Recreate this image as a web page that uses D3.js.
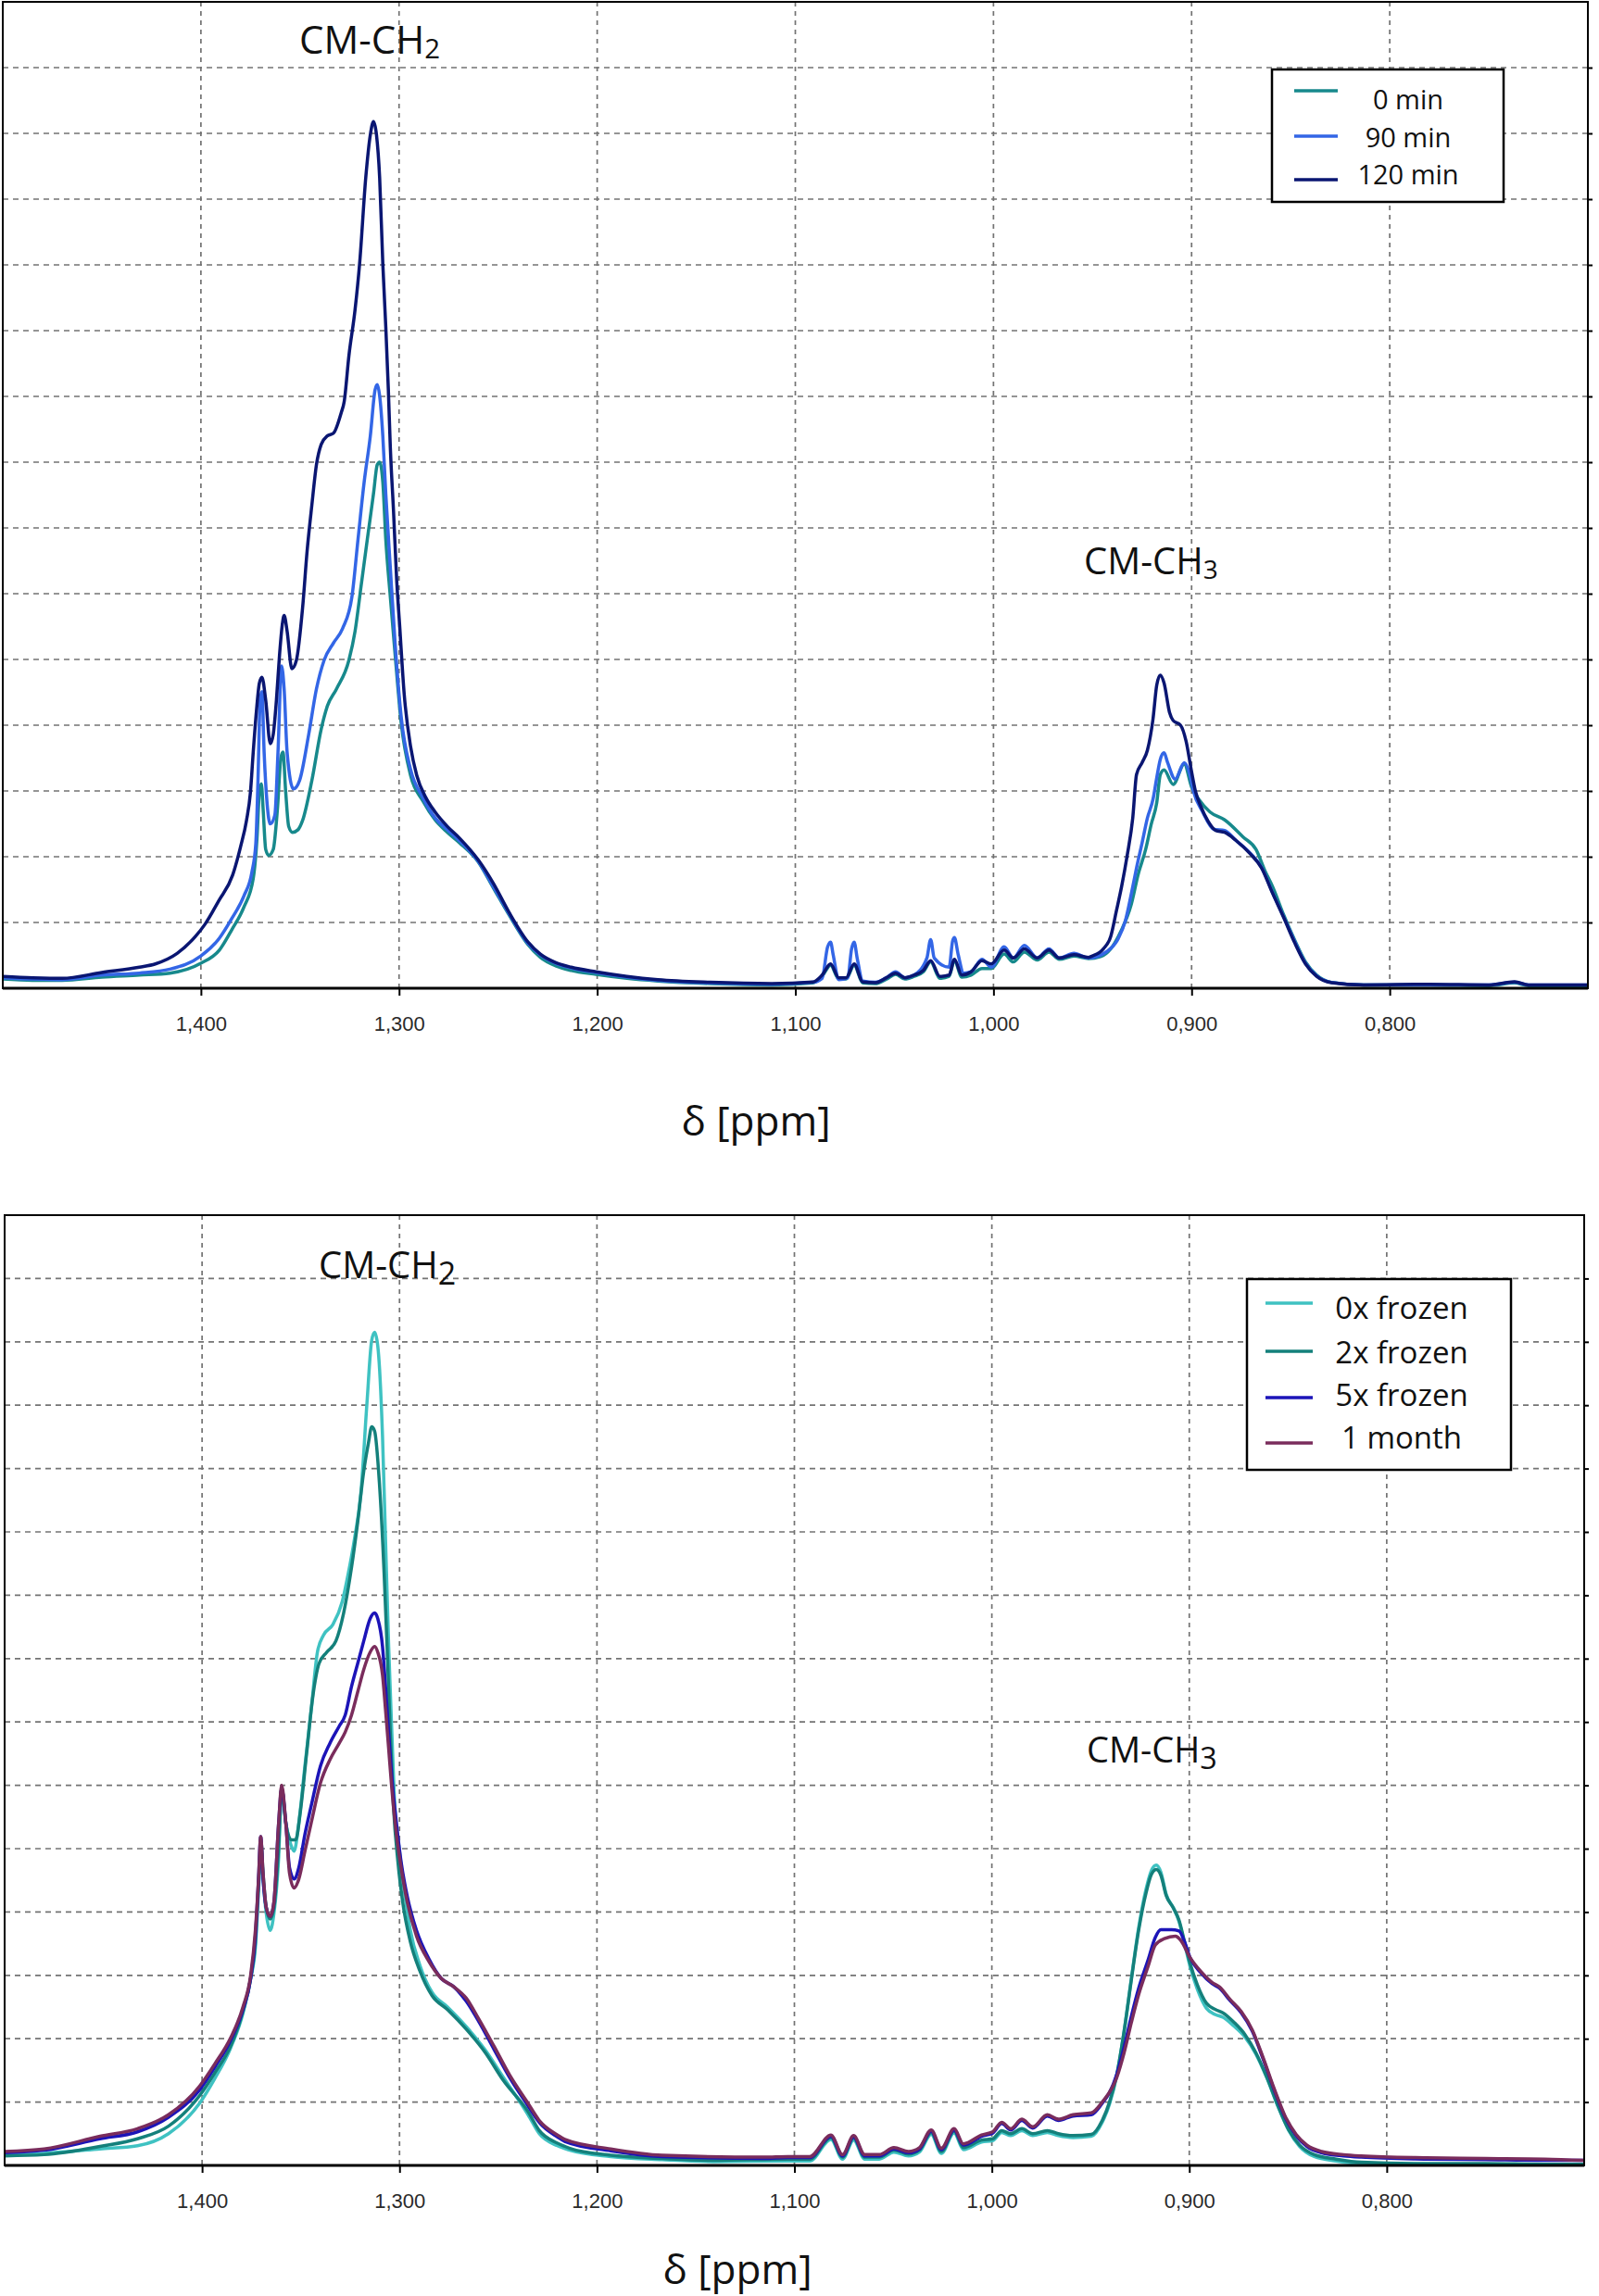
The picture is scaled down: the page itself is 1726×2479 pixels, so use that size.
<!DOCTYPE html>
<html>
<head>
<meta charset="utf-8">
<script src="https://cdn.jsdelivr.net/npm/d3@7"></script>
<style>
body { margin: 0; background: #fff; }
svg { display: block; }
</style>
</head>
<body>
<svg id="chart" width="1726" height="2479"></svg>
<script>
// x ticks (ppm) and horizontal grid levels
var xTicks = [1.4, 1.3, 1.2, 1.1, 1.0, 0.9, 0.8];
var yGrid = [1, 2, 3, 4, 5, 6, 7, 8, 9, 10, 11, 12, 13, 14];

// upper panel: [ppm, intensity]
var min0 = [[1.500,0.14],[1.485,0.12],[1.470,0.12],[1.450,0.17],[1.431,0.20],[1.4156,0.23],[1.4000,0.38],[1.3907,0.58],[1.3844,0.89],[1.3782,1.24],[1.3736,1.67],[1.3717,2.28],[1.3705,2.98],[1.3695,3.11],[1.3686,2.72],[1.3673,2.11],[1.3658,2.02],[1.3635,2.11],[1.3614,2.72],[1.3596,3.51],[1.3586,3.59],[1.3572,2.98],[1.3557,2.46],[1.3538,2.37],[1.3510,2.41],[1.3487,2.55],[1.3440,3.16],[1.3393,3.94],[1.3362,4.29],[1.3316,4.55],[1.3253,4.99],[1.3222,5.43],[1.3191,6.13],[1.3160,6.83],[1.3129,7.52],[1.3110,7.96],[1.3098,8.00],[1.3082,7.70],[1.3067,6.83],[1.3044,5.95],[1.3020,5.08],[1.2989,4.03],[1.2942,3.24],[1.2880,2.85],[1.2818,2.56],[1.2756,2.37],[1.2694,2.21],[1.2600,1.92],[1.2523,1.52],[1.2444,1.11],[1.2351,0.67],[1.2287,0.47],[1.2209,0.34],[1.2131,0.27],[1.2006,0.21],[1.185,0.15],[1.1694,0.11],[1.1429,0.07],[1.1119,0.05],[1.0911,0.08],[1.0865,0.18],[1.0822,0.35],[1.0781,0.14],[1.0744,0.14],[1.0703,0.35],[1.0660,0.08],[1.0596,0.07],[1.0540,0.14],[1.0494,0.21],[1.0447,0.14],[1.0401,0.18],[1.0354,0.25],[1.0317,0.40],[1.0271,0.15],[1.0224,0.18],[1.0197,0.42],[1.0160,0.17],[1.0113,0.20],[1.0058,0.30],[1.0011,0.30],[0.9946,0.52],[0.9900,0.40],[0.9844,0.55],[0.9779,0.43],[0.9720,0.55],[0.9668,0.44],[0.9594,0.49],[0.9520,0.45],[0.9460,0.48],[0.9408,0.60],[0.9353,0.89],[0.9306,1.26],[0.9269,1.74],[0.9232,2.11],[0.9204,2.49],[0.9176,2.82],[0.9158,3.25],[0.9139,3.32],[0.9093,3.10],[0.9037,3.41],[0.9000,3.06],[0.8963,2.87],[0.8907,2.68],[0.8833,2.56],[0.8740,2.30],[0.8675,2.11],[0.8629,1.78],[0.8592,1.55],[0.8536,1.12],[0.8481,0.74],[0.8425,0.40],[0.8369,0.20],[0.8295,0.09],[0.8132,0.05],[0.780,0.05],[0.750,0.04],[0.737,0.08],[0.730,0.04],[0.700,0.04]];

var min90 = [[1.500,0.16],[1.485,0.14],[1.470,0.13],[1.450,0.20],[1.4311,0.23],[1.4156,0.29],[1.4000,0.49],[1.3907,0.76],[1.3844,1.06],[1.3782,1.41],[1.3743,1.76],[1.3723,2.20],[1.3712,3.16],[1.3701,4.38],[1.3692,4.51],[1.3681,3.59],[1.3666,2.81],[1.3650,2.50],[1.3627,2.63],[1.3611,3.59],[1.3593,4.90],[1.3580,4.55],[1.3565,3.59],[1.3533,3.03],[1.3502,3.16],[1.3456,3.86],[1.3417,4.55],[1.3378,4.99],[1.3331,5.25],[1.3285,5.47],[1.3238,5.95],[1.3207,6.83],[1.3176,7.70],[1.3145,8.40],[1.3121,9.10],[1.3110,9.18],[1.3098,9.01],[1.3082,8.40],[1.3067,7.52],[1.3044,6.39],[1.3020,5.25],[1.2989,4.12],[1.2942,3.33],[1.2880,2.90],[1.2818,2.59],[1.2756,2.41],[1.2694,2.24],[1.2600,1.93],[1.2523,1.54],[1.2444,1.13],[1.2351,0.69],[1.2287,0.51],[1.2209,0.38],[1.2131,0.31],[1.2006,0.24],[1.185,0.17],[1.1694,0.12],[1.1429,0.08],[1.1119,0.06],[1.0911,0.09],[1.0865,0.15],[1.0837,0.63],[1.0822,0.70],[1.0809,0.51],[1.0781,0.13],[1.0735,0.16],[1.0716,0.60],[1.0703,0.70],[1.0688,0.46],[1.0660,0.11],[1.0596,0.09],[1.0540,0.16],[1.0494,0.25],[1.0447,0.16],[1.0401,0.20],[1.0336,0.46],[1.0317,0.74],[1.0299,0.46],[1.0224,0.32],[1.0206,0.72],[1.0197,0.77],[1.0178,0.51],[1.0150,0.23],[1.0113,0.25],[1.0058,0.44],[1.0011,0.32],[0.9946,0.63],[0.9900,0.46],[0.9844,0.65],[0.9779,0.46],[0.9720,0.60],[0.9668,0.46],[0.9594,0.53],[0.9520,0.46],[0.9427,0.56],[0.9371,0.75],[0.9334,1.03],[0.9306,1.41],[0.9278,1.83],[0.9250,2.21],[0.9223,2.59],[0.9195,2.87],[0.9176,3.20],[0.9158,3.48],[0.9139,3.58],[0.9121,3.43],[0.9083,3.18],[0.9037,3.43],[0.9009,3.25],[0.8991,3.00],[0.8944,2.68],[0.8889,2.42],[0.8833,2.40],[0.8777,2.25],[0.8703,2.05],[0.8647,1.84],[0.8592,1.46],[0.8536,1.09],[0.8481,0.72],[0.8425,0.38],[0.8369,0.19],[0.8295,0.09],[0.8132,0.05],[0.780,0.05],[0.750,0.05],[0.737,0.09],[0.730,0.05],[0.700,0.05]];

var min120 = [[1.500,0.18],[1.485,0.16],[1.470,0.15],[1.450,0.24],[1.431,0.32],[1.423,0.37],[1.412,0.53],[1.403,0.78],[1.398,0.97],[1.391,1.33],[1.384,1.72],[1.380,2.15],[1.377,2.55],[1.375,2.98],[1.3736,3.59],[1.3720,4.21],[1.3705,4.64],[1.3692,4.73],[1.3673,4.38],[1.3650,3.72],[1.3635,3.86],[1.3619,4.38],[1.3603,5.08],[1.3588,5.56],[1.3580,5.67],[1.3565,5.43],[1.3541,4.86],[1.3518,4.99],[1.3487,5.78],[1.3464,6.65],[1.3440,7.35],[1.3417,7.96],[1.3393,8.27],[1.3362,8.40],[1.3331,8.44],[1.3292,8.75],[1.3277,8.92],[1.3253,9.62],[1.3222,10.32],[1.3199,11.02],[1.3168,12.33],[1.3145,12.98],[1.3129,13.18],[1.3114,12.98],[1.3098,12.33],[1.3082,11.02],[1.3067,10.06],[1.3054,9.10],[1.3044,8.22],[1.3028,7.26],[1.3012,6.21],[1.2997,5.52],[1.2974,4.47],[1.2942,3.68],[1.2911,3.24],[1.2865,2.90],[1.2818,2.68],[1.2756,2.46],[1.2694,2.28],[1.2600,1.95],[1.2523,1.59],[1.2444,1.15],[1.2351,0.71],[1.2287,0.52],[1.2209,0.39],[1.2131,0.32],[1.2006,0.25],[1.185,0.18],[1.1694,0.13],[1.1429,0.09],[1.1119,0.07],[1.0911,0.094],[1.0865,0.20],[1.0822,0.37],[1.0781,0.16],[1.0744,0.16],[1.0703,0.37],[1.0660,0.094],[1.0596,0.085],[1.0540,0.16],[1.0494,0.23],[1.0447,0.16],[1.0401,0.20],[1.0354,0.27],[1.0317,0.42],[1.0271,0.18],[1.0224,0.20],[1.0197,0.44],[1.0160,0.20],[1.0113,0.25],[1.0058,0.42],[1.0011,0.37],[0.9946,0.58],[0.9900,0.46],[0.9844,0.60],[0.9779,0.46],[0.9720,0.58],[0.9668,0.46],[0.9594,0.51],[0.9520,0.47],[0.9501,0.49],[0.9445,0.60],[0.9408,0.79],[0.9380,1.17],[0.9353,1.55],[0.9325,2.02],[0.9297,2.59],[0.9278,3.25],[0.9250,3.43],[0.9223,3.62],[0.9195,4.09],[0.9176,4.61],[0.9158,4.76],[0.9139,4.64],[0.9111,4.19],[0.9093,4.07],[0.9056,4.00],[0.9028,3.76],[0.9000,3.29],[0.8981,3.00],[0.8954,2.77],[0.8917,2.54],[0.8879,2.40],[0.8833,2.37],[0.8777,2.25],[0.8703,2.04],[0.8647,1.83],[0.8592,1.45],[0.8536,1.08],[0.8481,0.70],[0.8425,0.37],[0.8369,0.18],[0.8295,0.085],[0.8132,0.05],[0.780,0.06],[0.750,0.05],[0.737,0.10],[0.730,0.05],[0.700,0.05]];

// lower panel
var frozen0 = [[1.500,0.16],[1.480,0.19],[1.4517,0.26],[1.4327,0.31],[1.4170,0.50],[1.4013,0.98],[1.3934,1.38],[1.3856,1.85],[1.3793,2.40],[1.3754,2.95],[1.3730,3.44],[1.3711,4.52],[1.3702,5.05],[1.3691,4.52],[1.3675,3.98],[1.3655,3.71],[1.3636,3.98],[1.3612,4.87],[1.3597,5.95],[1.3576,5.41],[1.3549,5.05],[1.3534,4.96],[1.3510,5.41],[1.3479,6.31],[1.3447,7.20],[1.3416,8.10],[1.3385,8.37],[1.3337,8.54],[1.3290,8.90],[1.3259,9.35],[1.3228,9.89],[1.3196,10.60],[1.3165,12.03],[1.3141,13.02],[1.3126,13.15],[1.3110,12.93],[1.3086,11.50],[1.3071,9.89],[1.3055,8.19],[1.3039,6.84],[1.3024,5.68],[1.3000,4.96],[1.2976,4.34],[1.2945,3.71],[1.2898,3.17],[1.2835,2.73],[1.2757,2.50],[1.2662,2.19],[1.2568,1.83],[1.2474,1.39],[1.2349,0.80],[1.2292,0.50],[1.2200,0.31],[1.2137,0.24],[1.1930,0.14],[1.1670,0.09],[1.1410,0.06],[1.1033,0.07],[1.0922,0.07],[1.0815,0.41],[1.0756,0.10],[1.0700,0.40],[1.0644,0.10],[1.0570,0.10],[1.0496,0.21],[1.0422,0.15],[1.0367,0.21],[1.0307,0.49],[1.0256,0.19],[1.0191,0.51],[1.0144,0.25],[1.0052,0.37],[0.9996,0.39],[0.9950,0.52],[0.9904,0.47],[0.9848,0.55],[0.9793,0.47],[0.9719,0.52],[0.9663,0.47],[0.9589,0.44],[0.9496,0.46],[0.9441,0.68],[0.9404,0.97],[0.9367,1.42],[0.9330,2.12],[0.9293,2.96],[0.9256,3.76],[0.9219,4.36],[0.9191,4.66],[0.9167,4.74],[0.9144,4.63],[0.9117,4.28],[0.9080,4.06],[0.9052,3.85],[0.9024,3.50],[0.8996,3.14],[0.8959,2.78],[0.8913,2.48],[0.8867,2.38],[0.8830,2.34],[0.8774,2.20],[0.8719,2.03],[0.8663,1.76],[0.8607,1.38],[0.8552,0.94],[0.8496,0.55],[0.8441,0.30],[0.8367,0.14],[0.8256,0.07],[0.8130,0.03],[0.780,0.02],[0.750,0.02],[0.720,0.02],[0.700,0.02]];

var frozen2 = [[1.500,0.15],[1.480,0.17],[1.4517,0.30],[1.4327,0.42],[1.4170,0.62],[1.4013,1.10],[1.3934,1.47],[1.3856,1.88],[1.3793,2.43],[1.3754,2.95],[1.3730,3.53],[1.3711,4.61],[1.3702,5.14],[1.3691,4.61],[1.3675,4.07],[1.3655,3.89],[1.3636,4.07],[1.3612,5.05],[1.3597,5.95],[1.3576,5.41],[1.3549,5.14],[1.3526,5.14],[1.3502,5.59],[1.3471,6.49],[1.3440,7.38],[1.3408,7.92],[1.3369,8.10],[1.3322,8.28],[1.3283,8.72],[1.3243,9.44],[1.3212,10.15],[1.3181,10.96],[1.3157,11.41],[1.3141,11.66],[1.3126,11.59],[1.3102,10.78],[1.3078,9.35],[1.3063,8.19],[1.3047,6.84],[1.3031,5.68],[1.3008,4.79],[1.2984,4.16],[1.2945,3.53],[1.2898,3.08],[1.2835,2.68],[1.2757,2.46],[1.2662,2.15],[1.2568,1.79],[1.2474,1.34],[1.2349,0.85],[1.2292,0.55],[1.2200,0.35],[1.2137,0.27],[1.1930,0.16],[1.1670,0.11],[1.1410,0.08],[1.1033,0.10],[1.0922,0.10],[1.0815,0.44],[1.0756,0.13],[1.0700,0.43],[1.0644,0.13],[1.0570,0.13],[1.0496,0.24],[1.0422,0.18],[1.0367,0.24],[1.0307,0.52],[1.0256,0.22],[1.0191,0.54],[1.0144,0.28],[1.0052,0.40],[0.9996,0.42],[0.9950,0.55],[0.9904,0.50],[0.9848,0.58],[0.9793,0.50],[0.9719,0.55],[0.9663,0.50],[0.9589,0.47],[0.9496,0.49],[0.9441,0.71],[0.9404,1.00],[0.9367,1.44],[0.9330,2.12],[0.9293,2.94],[0.9256,3.72],[0.9219,4.30],[0.9191,4.60],[0.9167,4.67],[0.9144,4.58],[0.9117,4.26],[0.9080,4.06],[0.9052,3.87],[0.9024,3.53],[0.8996,3.19],[0.8959,2.85],[0.8913,2.56],[0.8867,2.46],[0.8830,2.41],[0.8774,2.26],[0.8719,2.07],[0.8663,1.78],[0.8607,1.39],[0.8552,0.95],[0.8496,0.56],[0.8441,0.32],[0.8367,0.17],[0.8256,0.10],[0.8130,0.05],[0.780,0.03],[0.750,0.03],[0.720,0.02],[0.700,0.02]];

var frozen5 = [[1.500,0.20],[1.480,0.24],[1.4517,0.42],[1.4327,0.53],[1.4170,0.76],[1.4013,1.19],[1.3934,1.56],[1.3856,1.97],[1.3793,2.46],[1.3754,2.95],[1.3730,3.62],[1.3714,4.52],[1.3703,5.19],[1.3691,4.52],[1.3675,4.07],[1.3655,3.93],[1.3636,4.16],[1.3612,5.41],[1.3597,5.95],[1.3576,5.41],[1.3557,4.70],[1.3534,4.52],[1.3510,4.70],[1.3479,5.23],[1.3447,5.68],[1.3400,6.31],[1.3353,6.66],[1.3306,6.93],[1.3275,7.11],[1.3243,7.56],[1.3212,7.92],[1.3181,8.28],[1.3149,8.63],[1.3126,8.72],[1.3110,8.63],[1.3086,8.19],[1.3071,7.56],[1.3055,6.84],[1.3039,6.13],[1.3016,5.41],[1.2992,4.79],[1.2961,4.25],[1.2914,3.71],[1.2851,3.26],[1.2788,2.95],[1.2725,2.82],[1.2662,2.59],[1.2600,2.28],[1.2521,1.83],[1.2443,1.39],[1.2349,0.94],[1.2290,0.67],[1.2200,0.45],[1.2163,0.38],[1.1930,0.23],[1.1670,0.14],[1.1155,0.11],[1.1033,0.125],[1.0922,0.125],[1.0815,0.46],[1.0756,0.15],[1.0700,0.45],[1.0644,0.15],[1.0570,0.15],[1.0496,0.26],[1.0422,0.20],[1.0367,0.26],[1.0307,0.54],[1.0256,0.25],[1.0191,0.56],[1.0144,0.32],[1.0052,0.46],[0.9996,0.51],[0.9950,0.66],[0.9904,0.56],[0.9848,0.71],[0.9793,0.59],[0.9719,0.78],[0.9663,0.71],[0.9589,0.78],[0.9496,0.80],[0.9441,0.98],[0.9404,1.15],[0.9367,1.44],[0.9330,1.87],[0.9293,2.36],[0.9256,2.80],[0.9209,3.24],[0.9172,3.60],[0.9144,3.72],[0.9089,3.72],[0.9052,3.70],[0.9024,3.53],[0.8996,3.28],[0.8941,3.04],[0.8885,2.87],[0.8848,2.80],[0.8793,2.60],[0.8737,2.41],[0.8681,2.12],[0.8626,1.68],[0.8570,1.19],[0.8515,0.76],[0.8459,0.47],[0.8404,0.30],[0.8330,0.20],[0.8219,0.15],[0.8130,0.13],[0.780,0.10],[0.750,0.09],[0.720,0.08],[0.700,0.08]];

var month1 = [[1.500,0.22],[1.480,0.26],[1.4517,0.46],[1.4327,0.58],[1.4170,0.80],[1.4013,1.25],[1.3934,1.61],[1.3856,2.01],[1.3793,2.50],[1.3754,3.00],[1.3730,3.71],[1.3714,4.52],[1.3703,5.19],[1.3691,4.61],[1.3675,4.07],[1.3655,3.93],[1.3636,4.16],[1.3612,5.41],[1.3597,6.00],[1.3576,5.41],[1.3557,4.61],[1.3534,4.38],[1.3510,4.52],[1.3479,4.96],[1.3447,5.41],[1.3400,6.04],[1.3353,6.40],[1.3306,6.66],[1.3275,6.84],[1.3243,7.11],[1.3212,7.47],[1.3181,7.83],[1.3149,8.10],[1.3126,8.19],[1.3110,8.10],[1.3086,7.74],[1.3071,7.20],[1.3055,6.58],[1.3039,5.95],[1.3016,5.23],[1.2992,4.70],[1.2961,4.16],[1.2914,3.62],[1.2851,3.22],[1.2788,2.95],[1.2725,2.82],[1.2662,2.64],[1.2600,2.32],[1.2521,1.88],[1.2443,1.43],[1.2349,0.98],[1.2290,0.70],[1.2200,0.48],[1.2163,0.41],[1.1930,0.26],[1.1670,0.16],[1.1155,0.13],[1.1033,0.14],[1.0922,0.14],[1.0815,0.48],[1.0756,0.17],[1.0700,0.47],[1.0644,0.17],[1.0570,0.17],[1.0496,0.28],[1.0422,0.22],[1.0367,0.28],[1.0307,0.56],[1.0256,0.27],[1.0191,0.58],[1.0144,0.34],[1.0052,0.48],[0.9996,0.53],[0.9950,0.68],[0.9904,0.58],[0.9848,0.73],[0.9793,0.61],[0.9719,0.80],[0.9663,0.73],[0.9589,0.80],[0.9496,0.83],[0.9441,1.00],[0.9367,1.39],[0.9330,1.78],[0.9293,2.26],[0.9256,2.70],[0.9209,3.14],[0.9172,3.48],[0.9126,3.58],[0.9070,3.62],[0.9043,3.55],[0.8996,3.28],[0.8941,3.06],[0.8885,2.89],[0.8848,2.82],[0.8793,2.62],[0.8737,2.43],[0.8681,2.14],[0.8626,1.70],[0.8570,1.21],[0.8515,0.78],[0.8459,0.49],[0.8404,0.32],[0.8330,0.22],[0.8219,0.17],[0.8130,0.15],[0.780,0.12],[0.750,0.11],[0.720,0.10],[0.700,0.08]];

var topNames = ["0 min", "90 min", "120 min"];
var topColors = ["#17898c", "#3366e6", "#0a1672"];
var bottomNames = ["0x frozen", "2x frozen", "5x frozen", "1 month"];
var bottomColors = ["#3fc2c2", "#14807b", "#1c14b8", "#7a2c5c"];

var svg = d3.select("#chart");

drawPanel({
	left: 3, right: 1714, top: 2, bottom: 1067,
	series: [min0, min90, min120], colors: topColors, names: topNames,
	legend: {x0: 1373, y0: 75, x1: 1623, y1: 218, lx0: 1397, lx1: 1444, tx: 1520, size: 29,
		lineY: [98, 147, 194], textY: [118, 159, 199]},
	label2: {x: 323, y: 58, size: 42, sub: 0.7, dy: 5},
	label3: {x: 1170, y: 620, size: 40, sub: 0.7, dy: 5},
	axisLabel: {x: 816, y: 1226}
});

drawPanel({
	left: 5, right: 1710, top: 1312, bottom: 2338,
	series: [frozen0, frozen2, frozen5, month1], colors: bottomColors, names: bottomNames,
	legend: {x0: 1346, y0: 1381, x1: 1631, y1: 1587, lx0: 1366, lx1: 1417, tx: 1513, size: 33,
		lineY: [1407, 1459, 1509, 1558], textY: [1424, 1472, 1518, 1564]},
	label2: {x: 344, y: 1380, size: 40, sub: 0.85, dy: 7},
	label3: {x: 1173, y: 1903, size: 38, sub: 0.85, dy: 7},
	axisLabel: {x: 796, y: 2466}
});

function drawPanel(o) {
	var x = d3.scaleLinear().domain([1.5, 0.7]).range([o.left, o.right]);
	var y = d3.scaleLinear().domain([0, 15]).range([o.bottom, o.top]);
	var G = svg.append("g");

	// grid
	G.selectAll(".vgrid").data(xTicks).join("line")
		.attr("x1", d => x(d)).attr("x2", d => x(d))
		.attr("y1", o.top).attr("y2", o.bottom)
		.attr("stroke", "#737373").attr("stroke-width", 1.7)
		.attr("stroke-dasharray", "5,5");
	G.selectAll(".hgrid").data(yGrid).join("line")
		.attr("x1", o.left).attr("x2", o.right)
		.attr("y1", d => y(d)).attr("y2", d => y(d))
		.attr("stroke", "#737373").attr("stroke-width", 1.7)
		.attr("stroke-dasharray", "6,5");

	// spectra
	var line = d3.line()
		.x(d => x(d[0]))
		.y(d => y(d[1]))
		.curve(d3.curveMonotoneX);
	for (var i = 0; i < o.series.length; i++) {
		G.append("path")
			.attr("d", line(o.series[i]))
			.attr("fill", "none")
			.attr("stroke", o.colors[i])
			.attr("stroke-width", 3.5)
			.attr("stroke-linejoin", "round");
	}

	// frame
	G.append("rect")
		.attr("x", o.left).attr("y", o.top)
		.attr("width", o.right - o.left).attr("height", o.bottom - o.top)
		.attr("fill", "none").attr("stroke", "#000").attr("stroke-width", 2);
	G.append("line")
		.attr("x1", o.left).attr("x2", o.right)
		.attr("y1", o.bottom).attr("y2", o.bottom)
		.attr("stroke", "#000").attr("stroke-width", 3);

	// x axis
	var xAxis = d3.axisBottom(x)
		.tickValues(xTicks)
		.tickSize(8)
		.tickPadding(22)
		.tickFormat(d => d.toFixed(3).replace(".", ","));
	var ax = G.append("g")
		.attr("transform", "translate(0," + o.bottom + ")")
		.call(xAxis);
	ax.select(".domain").remove();
	ax.selectAll("line").attr("stroke", "#000").attr("stroke-width", 2);
	ax.selectAll("text")
		.style("font-family", "'Liberation Sans', Arial, sans-serif")
		.style("font-size", "22px")
		.attr("fill", "#2a2a2a");

	// right ticks
	var yAxis = d3.axisRight(y).tickValues(yGrid).tickSize(5).tickFormat("");
	var ay = G.append("g")
		.attr("transform", "translate(" + o.right + ",0)")
		.call(yAxis);
	ay.select(".domain").remove();
	ay.selectAll("line").attr("stroke", "#000").attr("stroke-width", 2);

	// axis title
	G.append("text")
		.attr("x", o.axisLabel.x).attr("y", o.axisLabel.y)
		.attr("text-anchor", "middle")
		.style("font-family", "'Open Sans', sans-serif")
		.style("font-size", "44px")
		.attr("fill", "#111")
		.text("δ [ppm]");

	// peak labels
	peakLabel(G, o.label2, "2");
	peakLabel(G, o.label3, "3");

	// legend
	var L = o.legend;
	G.append("rect")
		.attr("x", L.x0).attr("y", L.y0)
		.attr("width", L.x1 - L.x0).attr("height", L.y1 - L.y0)
		.attr("fill", "#fff").attr("stroke", "#000").attr("stroke-width", 2.5);
	for (var j = 0; j < o.names.length; j++) {
		G.append("line")
			.attr("x1", L.lx0).attr("x2", L.lx1)
			.attr("y1", L.lineY[j]).attr("y2", L.lineY[j])
			.attr("stroke", o.colors[j]).attr("stroke-width", 3.5);
		G.append("text")
			.attr("x", L.tx).attr("y", L.textY[j])
			.attr("text-anchor", "middle")
			.style("font-family", "'Open Sans', sans-serif")
			.style("font-size", L.size + "px")
			.attr("fill", "#111")
			.text(o.names[j]);
	}
}

function peakLabel(G, p, idx) {
	var t = G.append("text")
		.attr("x", p.x).attr("y", p.y)
		.style("font-family", "'Open Sans', sans-serif")
		.style("font-size", p.size + "px")
		.attr("fill", "#111");
	t.append("tspan").text("CM-CH");
	t.append("tspan")
		.attr("dy", p.dy)
		.style("font-size", (p.size * p.sub) + "px")
		.text(idx);
}
</script>
</body>
</html>
